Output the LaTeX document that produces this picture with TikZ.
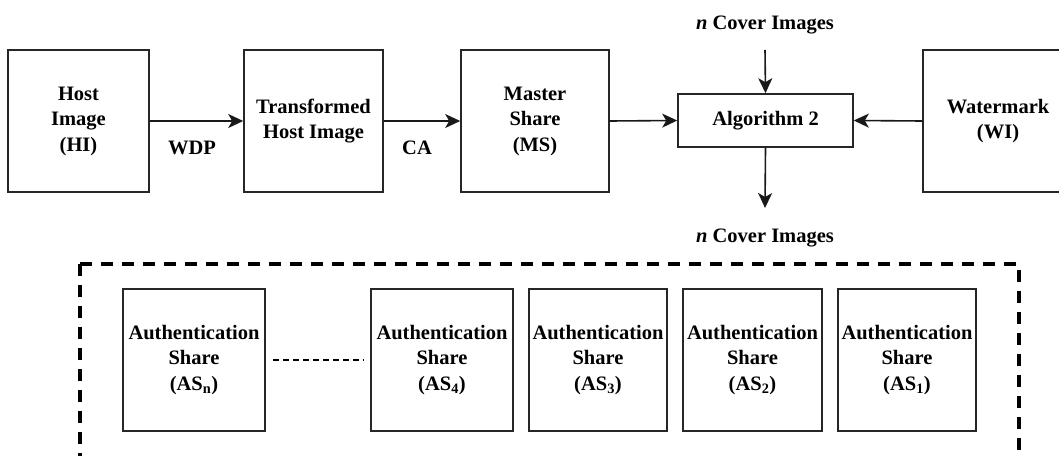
\documentclass[tikz,border=0pt]{standalone}
\usepackage{fontspec}
\setmainfont{Liberation Serif}
\usetikzlibrary{arrows.meta}
\tikzset{
  box/.style={draw=black!85, line width=1.6pt, minimum height=142pt, align=center, inner sep=0pt, font=\fontsize{20.5}{25.5}\selectfont\bfseries},
  asbox/.style={box, minimum width=140pt},
  arr/.style={draw=black!90, line width=1.6pt, -{Stealth[length=15pt,width=14pt,inset=4pt]}},
  lbl/.style={font=\fontsize{20.5}{25}\selectfont\bfseries, inner sep=0pt},
}
\begin{document}
\begin{tikzpicture}[x=1pt,y=-1pt]
\useasboundingbox (0,0) rectangle (1059,455);
\clip (0,0) rectangle (1059,455);
\node[box, minimum width=141pt] (hi) at (78.5,121) {Host\\Image\\(HI)};
\node[box, minimum width=139pt] (thi) at (313.5,121) {Transformed\\Host Image};
\node[box, minimum width=148pt] (ms) at (535,121) {Master\\Share\\(MS)};
\node[box, minimum width=175pt, minimum height=53pt] (alg) at (765.5,120.5) {Algorithm 2};
\node[box, minimum width=150pt] (wi) at (998,121) {Watermark\\(WI)};
\node[lbl] (cin) at (765,25) {\textit{n} Cover Images};
\node[lbl] (cout) at (765,238) {\textit{n} Cover Images};
\coordinate (cint) at (765,50);
\coordinate (coutt) at (765,208);
\draw[arr] (hi.east) -- (thi.west);
\draw[arr] (thi.east) -- (ms.west);
\draw[arr] (ms.east) -- (alg.west);
\draw[arr] (wi.west) -- (alg.east);
\draw[arr] (cint) -- (alg.north);
\draw[arr] (alg.south) -- (coutt);
\node[lbl] (wdp) at (192,148) {WDP};
\node[lbl] (ca) at (417,148) {CA};
% dashed frame
\draw[line width=3.5pt, dash pattern=on 12pt off 9pt] (80,264) -- (1019,264) -- (1019,500) (80,264) -- (80,500);
% authentication shares
\node[asbox, minimum width=142pt] (asn) at (194,360) {Authentication\\Share\\(AS\textsubscript{n})};
\node[asbox, minimum width=142pt] (as4) at (442,360) {Authentication\\Share\\(AS\textsubscript{4})};
\node[asbox, minimum width=138pt] (as3) at (598,360) {Authentication\\Share\\(AS\textsubscript{3})};
\node[asbox, minimum width=139pt] (as2) at (752.5,360) {Authentication\\Share\\(AS\textsubscript{2})};
\node[asbox, minimum width=138pt] (as1) at (907,360) {Authentication\\Share\\(AS\textsubscript{1})};
\draw[line width=1.2pt, dash pattern=on 6pt off 4pt, shorten <=7pt, shorten >=7pt] (asn.east) -- (as4.west);
\end{tikzpicture}
\end{document}
